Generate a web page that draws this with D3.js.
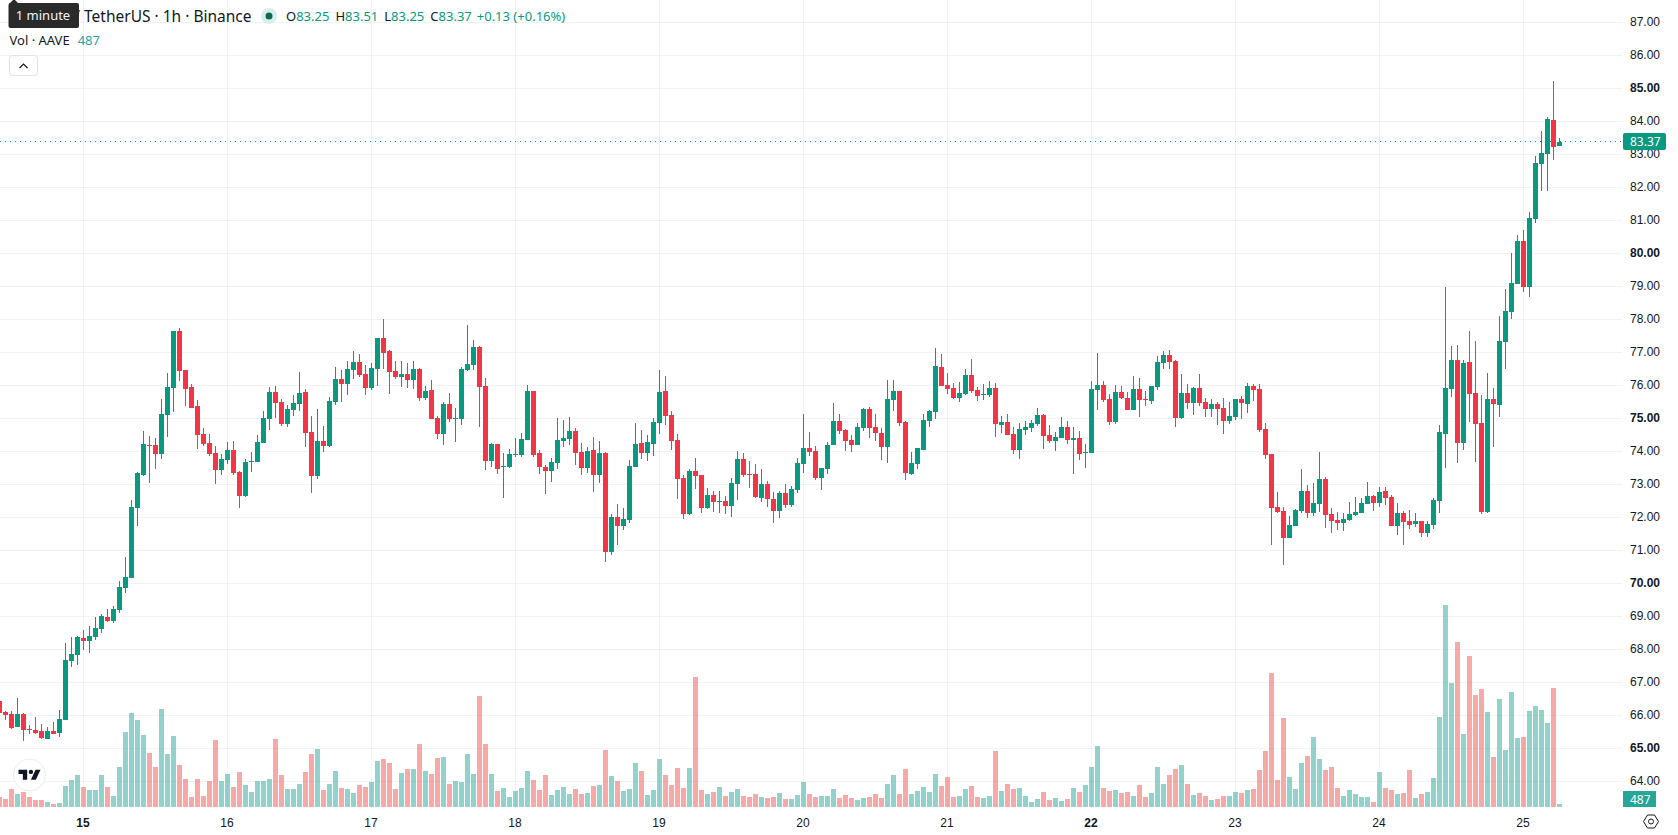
<!DOCTYPE html>
<html>
<head>
<meta charset="utf-8">
<title>AAVE / TetherUS 1h</title>
<script src="https://cdn.jsdelivr.net/npm/d3@7"></script>
<style>
  html, body { margin: 0; padding: 0; background: #fff; overflow: hidden; }
  svg { display: block; font-family: "Noto Sans", "Open Sans", sans-serif; }
</style>
</head>
<body>
<svg id="chart" width="1678" height="835"></svg>
<script>
// Hourly AAVE/USDT candles, oldest first.
const openPrices = [66.43,
  66.10,66.04,65.65,66.04,65.59,65.56,65.53,65.28,65.53,65.47,
  65.86,67.65,67.83,68.34,68.25,68.37,68.62,68.98,68.86,69.19,
  69.86,70.16,72.28,73.28,74.19,74.19,73.92,75.10,75.92,77.65,
  76.46,75.95,75.37,74.53,74.25,73.95,73.43,73.74,74.04,73.37,
  72.65,73.68,73.68,74.25,74.98,75.80,75.49,74.83,75.25,75.43,
  75.80,74.59,73.25,74.31,74.16,75.49,76.19,76.04,76.46,76.71,
  76.34,75.92,76.49,77.43,77.04,76.43,76.25,76.34,76.16,76.49,
  75.62,75.86,75.01,74.53,75.43,74.98,74.98,76.46,76.62,77.16,
  75.98,73.71,74.22,73.52,73.52,73.89,73.89,74.34,75.83,73.95,
  73.52,73.40,73.65,74.31,74.37,74.62,73.98,73.49,74.04,73.28,
  73.96,70.96,72.02,71.74,71.93,73.53,74.26,73.96,74.23,74.86,
  75.83,75.11,74.35,73.20,72.11,73.41,73.29,72.29,72.68,72.47,
  72.50,72.35,73.02,73.77,73.32,73.32,72.59,73.02,72.56,72.20,
  72.74,72.38,72.83,73.62,74.11,74.02,73.20,73.47,74.20,74.93,
  74.65,74.35,74.20,74.71,75.29,74.74,74.56,74.14,75.56,75.83,
  74.90,73.32,73.62,74.05,74.93,75.20,76.56,76.02,75.93,75.62,
  75.74,76.32,75.86,75.71,75.71,75.93,74.80,74.90,74.53,74.05,
  74.65,74.71,74.83,75.11,74.50,74.32,74.41,74.74,74.35,74.41,
  73.96,73.96,75.86,76.02,75.59,74.90,75.80,75.62,75.26,75.89,
  75.59,75.53,75.96,76.68,76.93,76.74,75.02,75.77,75.47,75.93,
  75.50,75.29,75.44,75.32,74.93,75.05,75.59,75.44,75.99,75.89,
  74.68,73.93,72.32,72.20,71.38,71.74,72.20,72.80,72.14,72.41,
  73.17,72.11,71.93,71.83,71.93,72.08,72.14,72.41,72.65,72.44,
  72.80,72.62,71.74,72.14,71.90,71.80,71.90,71.53,71.77,72.50,
  74.53,75.89,76.77,74.25,76.71,75.77,74.86,72.17,75.59,75.41,
  77.31,78.22,79.07,80.37,78.98,81.04,82.71,83.01,84.04,83.25];

const highPrices = [66.50,
  66.13,66.13,66.52,66.07,65.71,65.95,65.74,65.65,65.79,66.16,
  68.19,68.37,68.40,68.59,68.71,68.98,69.07,69.22,69.31,70.07,
  70.80,72.53,73.37,74.62,74.47,74.40,75.59,76.37,77.65,77.74,
  76.46,76.04,75.55,74.71,74.53,74.16,73.92,74.28,74.31,73.40,
  73.77,73.98,74.50,75.22,75.95,75.98,75.59,75.40,75.71,76.40,
  75.89,75.07,75.28,74.77,75.65,76.55,76.46,76.74,77.04,76.95,
  76.62,76.68,77.43,78.01,77.07,76.74,76.74,76.68,76.74,76.52,
  75.98,76.16,75.07,75.49,75.77,75.31,76.55,77.83,77.37,77.19,
  76.22,74.25,74.22,73.95,74.07,74.40,74.56,76.01,75.83,74.04,
  73.59,73.80,75.01,74.95,75.04,74.71,74.25,74.13,74.43,74.31,
  73.99,72.11,72.41,72.29,73.74,74.86,74.65,74.50,75.02,76.47,
  76.29,75.23,74.53,73.29,73.47,73.80,73.29,72.89,72.80,72.80,
  72.65,73.20,74.02,73.96,73.71,73.62,73.47,73.11,72.77,72.80,
  73.02,72.96,73.80,75.14,74.59,74.17,73.50,74.29,75.47,75.14,
  74.68,74.50,74.86,75.32,75.35,75.14,74.71,76.17,76.17,75.83,
  74.93,73.99,74.11,75.14,75.26,77.14,76.96,76.38,76.08,76.11,
  76.50,76.80,75.96,76.05,76.14,76.08,75.08,75.14,74.74,74.86,
  74.93,74.96,75.32,75.14,74.80,74.59,75.05,74.93,74.74,74.62,
  74.23,76.14,76.99,76.14,75.74,76.02,75.99,75.80,76.29,76.23,
  75.83,75.99,76.90,77.05,77.08,76.77,76.35,76.05,75.96,76.35,
  75.62,75.59,75.50,75.62,75.50,75.59,75.68,76.08,76.05,76.05,
  74.86,73.93,72.77,72.32,72.05,72.26,73.47,72.99,73.05,73.99,
  73.23,72.29,72.17,72.14,72.47,72.62,72.59,73.08,72.68,72.93,
  72.93,72.68,72.44,72.20,72.23,72.14,71.90,71.90,72.59,74.80,
  79.00,77.19,77.22,76.77,77.65,77.35,75.71,76.37,75.92,78.10,
  78.92,80.01,80.56,80.71,81.25,82.95,83.71,84.13,85.22,83.51];

const lowPrices = [66.02,
  65.86,65.59,65.65,65.22,65.43,65.43,65.28,65.28,65.43,65.34,
  65.86,67.47,67.52,67.98,67.89,68.28,68.50,68.83,68.80,69.10,
  69.71,70.16,71.74,73.25,73.04,73.46,73.77,74.43,75.19,76.13,
  75.37,75.31,74.07,74.16,73.86,73.01,73.28,73.62,73.28,72.28,
  72.62,73.37,73.68,74.25,74.65,75.01,74.77,74.74,75.07,75.22,
  74.13,72.74,73.16,73.98,74.13,75.40,75.49,75.71,76.19,76.25,
  75.71,75.86,75.98,76.49,75.74,76.19,75.95,75.92,75.89,75.52,
  75.55,74.98,74.37,74.19,74.89,74.28,74.80,76.43,76.46,74.74,
  73.43,73.52,73.31,72.59,73.49,73.83,73.83,74.34,73.83,73.31,
  72.71,73.07,73.46,74.13,74.19,73.59,73.28,73.34,72.77,73.04,
  70.65,70.86,71.17,71.62,71.83,73.53,73.77,73.71,73.86,74.53,
  74.80,74.05,72.56,71.96,72.08,72.86,72.14,72.26,72.17,72.14,
  72.11,72.02,72.53,73.23,72.89,72.59,72.47,72.32,71.83,71.99,
  72.29,72.32,72.74,73.35,73.86,73.14,72.83,73.32,74.20,74.53,
  74.02,73.99,74.20,74.62,74.41,74.32,73.74,73.65,75.23,74.77,
  73.14,73.29,73.47,74.05,74.74,74.99,75.99,75.74,75.59,75.50,
  75.71,75.77,75.53,75.56,75.65,74.44,74.56,74.50,73.93,73.77,
  74.50,74.59,74.77,74.08,74.26,74.02,74.41,74.23,73.32,73.74,
  73.50,73.96,75.26,75.50,74.80,74.83,75.59,75.26,75.26,75.05,
  75.38,75.44,75.86,76.50,76.50,74.74,74.99,75.29,75.11,75.38,
  75.05,75.05,74.80,74.53,74.83,74.96,74.99,75.17,75.53,74.59,
  73.77,71.17,72.14,70.56,71.38,71.74,72.14,71.99,72.05,72.17,
  71.68,71.53,71.62,71.59,71.90,72.05,72.14,72.41,72.20,72.32,
  72.38,71.74,71.47,71.17,71.65,71.71,71.41,71.41,71.65,72.14,
  73.50,75.65,73.65,74.04,74.89,73.68,72.11,72.14,74.13,75.04,
  76.50,78.01,79.07,78.83,78.68,80.92,81.89,81.89,82.83,83.25];

const closePrices = [66.08,
  66.01,65.62,66.04,65.56,65.56,65.46,65.31,65.53,65.43,65.89,
  67.68,67.86,68.37,68.25,68.40,68.65,69.01,68.86,69.22,69.89,
  70.19,72.31,73.34,74.22,74.16,73.92,75.13,75.95,77.65,76.43,
  75.89,75.33,74.50,74.22,73.92,73.43,73.77,74.04,73.34,72.65,
  73.68,73.71,74.28,75.01,75.80,75.46,74.83,75.28,75.46,75.77,
  74.56,73.25,74.31,74.16,75.52,76.19,76.04,76.49,76.71,76.31,
  75.92,76.52,77.43,76.98,76.40,76.25,76.34,76.16,76.49,75.62,
  75.83,74.98,74.53,75.43,74.98,75.01,76.49,76.65,77.16,75.95,
  73.71,74.22,73.46,73.55,73.92,73.92,74.37,75.83,73.89,73.52,
  73.40,73.68,74.34,74.40,74.62,73.95,73.49,74.01,73.28,73.95,
  70.96,72.02,71.74,71.96,73.56,74.23,73.96,74.29,74.90,75.80,
  75.08,74.32,73.17,72.11,73.41,73.26,72.29,72.68,72.47,72.50,
  72.35,73.05,73.77,73.29,73.29,72.62,73.02,72.56,72.20,72.74,
  72.38,72.86,73.65,74.11,73.99,73.20,73.50,74.20,74.93,74.62,
  74.32,74.20,74.74,75.29,74.71,74.56,74.14,75.59,75.83,74.86,
  73.35,73.65,74.11,74.96,75.23,76.59,75.99,75.90,75.62,75.77,
  76.32,75.83,75.68,75.74,75.93,74.83,74.90,74.50,74.05,74.68,
  74.74,74.86,75.11,74.47,74.32,74.44,74.74,74.35,74.41,73.93,
  73.99,75.89,76.02,75.56,74.90,75.80,75.62,75.26,75.89,75.56,
  75.56,75.99,76.71,76.93,76.71,75.02,75.77,75.47,75.93,75.47,
  75.29,75.44,75.29,74.93,75.08,75.59,75.47,75.99,75.86,74.65,
  73.90,72.29,72.17,71.38,71.77,72.23,72.80,72.14,72.44,73.17,
  72.08,71.90,71.83,71.96,72.11,72.17,72.44,72.65,72.44,72.77,
  72.59,71.74,72.14,71.87,71.77,71.90,71.53,71.80,72.53,74.59,
  75.93,76.77,74.25,76.68,75.74,74.83,72.17,75.59,75.44,77.35,
  78.25,79.10,80.37,78.98,81.07,82.74,83.04,84.07,83.22,83.37];

// Traded volume per candle, in AAVE.
const volumes = [1600,
  1280,2880,2080,2400,1600,1120,1120,800,480,640,
  3360,4320,5120,3200,2720,2720,5120,3200,1760,6400,
  12000,15040,13920,11520,8640,6400,15680,8480,11360,6720,
  4480,1600,4480,1760,4160,10720,4160,5280,3200,5600,
  3520,2400,4160,4160,4480,10880,5120,2880,2880,3680,
  5600,8480,9280,2720,3680,5760,3040,2880,2240,3520,
  3200,4000,7360,7680,7040,2880,5440,6080,6080,10080,
  5760,5280,7840,8000,3680,4160,4000,8480,5280,17760,
  10080,5280,2560,3040,1600,2560,3040,5760,4320,2720,
  5120,1920,2720,3200,2080,2880,2080,2240,3360,3520,
  9120,4960,4160,2560,2880,7040,5760,1920,2720,7680,
  5120,3520,6240,3040,6240,20800,2720,2080,2400,3200,
  1760,2400,2880,1760,1600,2080,1600,1440,1600,2240,
  1280,1280,1920,4000,2080,1600,1760,1760,2880,1440,
  1920,1440,1120,1440,1600,2080,1440,3680,5120,2080,
  6080,2080,2560,3200,2400,5280,3360,4800,1600,1760,
  2880,3360,1600,1440,1760,8960,2560,3680,2880,3040,
  1760,800,1280,2400,1120,1440,960,1280,3040,2400,
  3520,6400,9760,3040,2560,2720,2240,2400,1760,3520,
  1600,2240,6400,3680,5120,6080,6720,3680,1920,2240,
  1760,1120,1280,1760,1760,2400,2240,2720,2880,5920,
  8960,21440,4320,14240,4800,2880,7040,8160,11200,7680,
  5920,6400,3040,1760,2720,2080,1600,1600,800,5600,
  3040,2720,2080,2240,5920,1440,2080,2400,4640,14400,
  32320,19840,26400,11680,24160,17920,18880,15200,8000,17280,
  9120,18400,11040,11200,15360,16160,15520,13440,19040,487];

const priceTicks = d3.range(64, 88);
const boldPrices = [65, 70, 75, 80, 85];
const dayLabels = [15, 16, 17, 18, 19, 20, 21, 22, 23, 24, 25];
const boldDays = [15, 22];
const firstDayCandle = 14;
const candlesPerDay = 24;

const lastClose = 83.37;
const lastVolume = 487;
const ohlcReadout = [["O", "83.25"], ["H", "83.51"], ["L", "83.25"], ["C", "83.37"]];

const UP = "#089981", DOWN = "#f23645";
const UP_VOL = "rgba(38,166,154,0.5)", DOWN_VOL = "rgba(239,83,80,0.5)";
const GRID = "rgba(42,46,57,0.06)", TEXT = "#131722";

const paneRight = 1622, paneBottom = 807;

const candles = openPrices.map((o, i) => ({
  i, o, h: highPrices[i], l: lowPrices[i], c: closePrices[i], v: volumes[i], up: closePrices[i] >= o
}));

const x = d3.scaleLinear().domain([0, candles.length - 1]).range([-0.5, 1559.5]);
const y = d3.scaleLinear().domain([64, 85]).range([781.5, 88.5]);
const yVol = d3.scaleLinear().domain([0, 32000]).range([paneBottom, paneBottom - 200]);

const svg = d3.select("#chart");

// Grid
const dayIndex = dayLabels.map((d, n) => firstDayCandle + n * candlesPerDay);
const grid = svg.append("g");
grid.selectAll("line.h").data(priceTicks).join("line")
  .attr("x1", 0).attr("x2", paneRight)
  .attr("y1", d => y(d)).attr("y2", d => y(d))
  .attr("stroke", GRID);
grid.selectAll("line.v").data(dayIndex).join("line")
  .attr("x1", d => x(d)).attr("x2", d => x(d))
  .attr("y1", 0).attr("y2", paneBottom + 1)
  .attr("stroke", GRID);

// Volume histogram sits under the candles
svg.append("g").selectAll("rect").data(candles).join("rect")
  .attr("x", d => x(d.i) - 2.5)
  .attr("width", 5)
  .attr("y", d => Math.round(yVol(d.v)))
  .attr("height", d => paneBottom - Math.round(yVol(d.v)))
  .attr("fill", d => d.up ? UP_VOL : DOWN_VOL);

// Candles
const cg = svg.append("g");
cg.selectAll("rect.wick").data(candles).join("rect")
  .attr("x", d => x(d.i) - 0.5)
  .attr("width", 1)
  .attr("y", d => Math.round(y(d.h)))
  .attr("height", d => Math.max(1, Math.round(y(d.l)) - Math.round(y(d.h))))
  .attr("fill", d => d.up ? UP : DOWN);
cg.selectAll("rect.body").data(candles).join("rect")
  .attr("x", d => x(d.i) - 2.5)
  .attr("width", 5)
  .attr("y", d => Math.round(y(Math.max(d.o, d.c))))
  .attr("height", d => Math.max(1, Math.round(y(Math.min(d.o, d.c))) - Math.round(y(Math.max(d.o, d.c)))))
  .attr("fill", d => d.up ? UP : DOWN);

// Dotted line at the last price
const lastY = Math.floor(y(lastClose) - 0.5) + 0.5;
svg.append("line")
  .attr("x1", 0).attr("x2", paneRight)
  .attr("y1", lastY).attr("y2", lastY)
  .attr("stroke", UP).attr("stroke-dasharray", "1 4");

// Price scale
const priceAxis = d3.axisRight(y).tickValues(priceTicks).tickSize(0).tickPadding(0)
  .tickFormat(d => d.toFixed(2));
const pa = svg.append("g").attr("transform", "translate(1630,-1)").call(priceAxis);
pa.select(".domain").remove();
pa.selectAll("text")
  .attr("fill", TEXT)
  .style("font-size", "12px")
  .style("font-weight", d => boldPrices.includes(d) ? 700 : 400);

// Time scale
const timeAxis = d3.axisBottom(x).tickValues(dayIndex).tickSize(0).tickPadding(0)
  .tickFormat((d, n) => dayLabels[n]);
const ta = svg.append("g").attr("transform", "translate(-1,818)").call(timeAxis);
ta.select(".domain").remove();
ta.selectAll("text")
  .attr("fill", TEXT)
  .style("font-size", "12px")
  .style("font-weight", (d, n) => boldDays.includes(dayLabels[n]) ? 700 : 400);

// Last price badge
const badgeY = Math.round(y(lastClose)) - 9;
svg.append("rect").attr("x", 1623).attr("y", badgeY).attr("width", 43).attr("height", 17).attr("rx", 2).attr("fill", UP);
svg.append("text").attr("x", 1630).attr("y", badgeY + 13).attr("fill", "#fff").style("font-size", "12px").text(lastClose.toFixed(2));

// Last volume badge
svg.append("rect").attr("x", 1623).attr("y", 791).attr("width", 33).attr("height", 16).attr("fill", "#26a69a");
svg.append("text").attr("x", 1630).attr("y", 803.5).attr("fill", "#fff").style("font-size", "12px").text(lastVolume);

// Scale settings icon
const gear = svg.append("g").attr("transform", "translate(1651,821.5)").attr("fill", "none").attr("stroke", TEXT);
gear.append("path").attr("d", "M-7.5,0 L-3.5,-6.5 H3.5 L7.5,0 L3.5,6.5 H-3.5 Z");
gear.append("circle").attr("r", 2.5);

// Legend
svg.append("text").attr("x", 251.5).attr("y", 22).attr("text-anchor", "end")
  .attr("fill", TEXT).style("font-size", "15.5px").text("/ TetherUS · 1h · Binance");
svg.append("circle").attr("cx", 269).attr("cy", 16).attr("r", 8).attr("fill", "#d9efea");
svg.append("circle").attr("cx", 269).attr("cy", 16).attr("r", 3.5).attr("fill", "#0b6a58");

const readout = svg.append("text").attr("x", 286).attr("y", 21).style("font-size", "13px");
ohlcReadout.forEach(([k, v]) => {
  readout.append("tspan").attr("fill", TEXT).attr("dx", k === "O" ? 0 : 6).text(k);
  readout.append("tspan").attr("fill", UP).text(v);
});
readout.append("tspan").attr("fill", UP).attr("dx", 5).text("+0.13 (+0.16%)");

const volLabel = svg.append("text").attr("x", 9.5).attr("y", 45).style("font-size", "13px");
volLabel.append("tspan").attr("fill", TEXT).text("Vol · AAVE");
volLabel.append("tspan").attr("fill", "#26a69a").attr("dx", 8).text(lastVolume);

// Collapse button
svg.append("rect").attr("x", 9.5).attr("y", 55.5).attr("width", 28).attr("height", 20).attr("rx", 3)
  .attr("fill", "#fff").attr("stroke", "#e0e3eb");
svg.append("path").attr("d", "M19.5,68 L23.5,64 L27.5,68").attr("fill", "none").attr("stroke", TEXT).attr("stroke-width", 1.2);

// Hint bubble over the legend
svg.append("path").attr("d", "M9,4 L14,-1 L19,4 Z").attr("fill", "#2a2a2a");
svg.append("rect").attr("x", 8.5).attr("y", 3).attr("width", 70.5).attr("height", 25).attr("rx", 2).attr("fill", "#2a2a2a");
svg.append("text").attr("x", 43).attr("y", 20).attr("text-anchor", "middle").attr("fill", "#f0f3fa").style("font-size", "13px").text("1 minute");

// Attribution badge
svg.append("circle").attr("cx", 29.5).attr("cy", 775).attr("r", 16).attr("fill", "#fff").attr("stroke", "#ececec").attr("stroke-width", 1);
svg.append("path")
  .attr("transform", "translate(18.5,766) scale(0.62)")
  .attr("d", "M14 22H7V13H0V6h14v16Z M28 22h-8l7.5-16h8L28 22Z M20 13a3.5 3.5 0 1 0 0-7 3.5 3.5 0 0 0 0 7Z")
  .attr("fill", "#131722");
</script>
</body>
</html>
